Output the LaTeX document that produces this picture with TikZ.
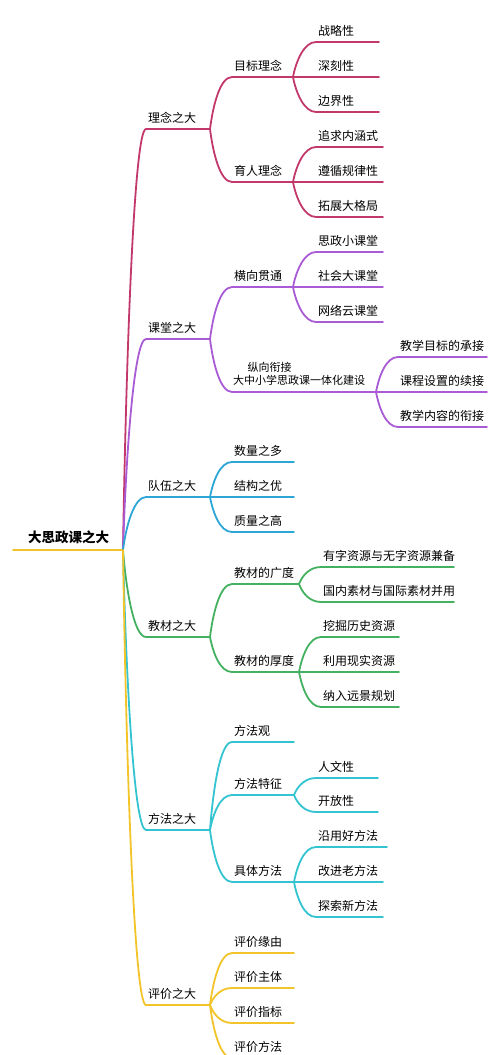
\documentclass[tikz,border=0pt]{standalone}
\usepackage{fontspec}
\setmainfont{Noto Sans CJK SC}
\usetikzlibrary{calc}
\definecolor{weinrot}{HTML}{C2386B}
\definecolor{lila}{HTML}{A95BD6}
\definecolor{blau}{HTML}{2DA6D6}
\definecolor{gruen}{HTML}{44B161}
\definecolor{tuerkis}{HTML}{33C3D1}
\definecolor{gelb}{HTML}{F2C42A}
\tikzset{
  ast/.style={line width=1.8pt, line cap=round},
  lbl/.style={anchor=base west, inner sep=0pt, font=\fontsize{12}{14}\selectfont},
}
% Linie eines Zweiges: Farbe, Eltern, Name, Beginn x, y, Ende x
\newcommand{\zweiglinie}[6]{%
  \coordinate (#3) at (#6,#5);
  \draw[ast,#1] (#2) .. controls ($(#2)!0.45!(#2|-#3)+(3,0)$) and (#4-12,#5) .. (#4,#5) -- (#3);
}
% Zweig mit Beschriftung ueber der Linie
\newcommand{\zweig}[7]{%
  \zweiglinie{#1}{#2}{#3}{#4}{#5}{#6}
  \node[lbl] (#3-t) at (#4+2,#5-7) {#7};
}
\begin{document}
\begin{tikzpicture}[x=1pt,y=-1pt]
\useasboundingbox (0,0) rectangle (500,1055);
\clip (0,0) rectangle (500,1055);
% Wurzel
\coordinate (wurzel) at (123,550);
\coordinate (wurzel-l) at (13,550);
\draw[ast,gelb] (wurzel-l) -- (wurzel);
\node[lbl,font=\fontsize{13.5}{16}\selectfont\bfseries] (wurzel-t) at (28,542) {大思政课之大};
% erste Ebene
\zweig{weinrot}{wurzel}{linian}{146}{129}{210}{理念之大}
\zweig{lila}{wurzel}{ketang}{146}{339}{210}{课堂之大}
\zweig{blau}{wurzel}{duiwu}{146}{497}{210}{队伍之大}
\zweig{gruen}{wurzel}{jiaocai}{146}{637}{210}{教材之大}
\zweig{tuerkis}{wurzel}{fangfa}{146}{830}{210}{方法之大}
\zweig{gelb}{wurzel}{pingjia}{146}{1005}{210}{评价之大}
% Theorie
\zweig{weinrot}{linian}{mubiao}{232}{77}{293}{目标理念}
\zweig{weinrot}{linian}{yuren}{232}{182}{293}{育人理念}
\zweig{weinrot}{mubiao}{zhanlue}{316}{42}{379}{战略性}
\zweig{weinrot}{mubiao}{shenke}{316}{77}{379}{深刻性}
\zweig{weinrot}{mubiao}{bianjie}{316}{112}{379}{边界性}
\zweig{weinrot}{yuren}{zhuiqiu}{316}{147}{383}{追求内涵式}
\zweig{weinrot}{yuren}{zunxun}{316}{182}{383}{遵循规律性}
\zweig{weinrot}{yuren}{tuozhan}{316}{217}{383}{拓展大格局}
% Unterricht
\zweig{lila}{ketang}{hengxiang}{232}{287}{293}{横向贯通}
\zweiglinie{lila}{ketang}{zongxiang}{232}{392}{376}
\node[lbl,anchor=south west,align=left,font=\fontsize{11}{13}\selectfont] (zongxiang-t) at (233,385.5) {\hspace*{1.3em}纵向衔接\\大中小学思政课一体化建设};
\zweig{lila}{hengxiang}{xiao}{316}{252}{383}{思政小课堂}
\zweig{lila}{hengxiang}{shehui}{316}{287}{383}{社会大课堂}
\zweig{lila}{hengxiang}{wangluo}{316}{322}{383}{网络云课堂}
\zweig{lila}{zongxiang}{chengjie}{398}{357}{487}{教学目标的承接}
\zweig{lila}{zongxiang}{xujie}{398}{392}{487}{课程设置的续接}
\zweig{lila}{zongxiang}{xianjie}{398}{427}{487}{教学内容的衔接}
% Lehrkraefte
\zweig{blau}{duiwu}{shuliang}{232}{462}{294}{数量之多}
\zweig{blau}{duiwu}{jiegou}{232}{497}{294}{结构之优}
\zweig{blau}{duiwu}{zhiliang}{232}{532}{294}{质量之高}
% Lehrmaterial
\zweig{gruen}{jiaocai}{guangdu}{232}{584}{299}{教材的广度}
\zweig{gruen}{jiaocai}{houdu}{232}{672}{299}{教材的厚度}
\zweig{gruen}{guangdu}{youzi}{321}{567}{454}{有字资源与无字资源兼备}
\zweig{gruen}{guangdu}{guonei}{321}{602}{454}{国内素材与国际素材并用}
\zweig{gruen}{houdu}{wajue}{321}{637}{399}{挖掘历史资源}
\zweig{gruen}{houdu}{liyong}{321}{672}{399}{利用现实资源}
\zweig{gruen}{houdu}{naru}{321}{707}{399}{纳入远景规划}
% Methode
\zweig{tuerkis}{fangfa}{fangfaguan}{232}{742}{294}{方法观}
\zweig{tuerkis}{fangfa}{tezheng}{232}{795}{294}{方法特征}
\zweig{tuerkis}{fangfa}{juti}{232}{882}{294}{具体方法}
\zweig{tuerkis}{tezheng}{renwen}{316}{778}{378}{人文性}
\zweig{tuerkis}{tezheng}{kaifang}{316}{812}{378}{开放性}
\zweig{tuerkis}{juti}{yanyong}{316}{847}{387}{沿用好方法}
\zweig{tuerkis}{juti}{gaijin}{316}{882}{383}{改进老方法}
\zweig{tuerkis}{juti}{tansuo}{316}{917}{383}{探索新方法}
% Bewertung
\zweig{gelb}{pingjia}{yuanyou}{232}{953}{294}{评价缘由}
\zweig{gelb}{pingjia}{zhuti}{232}{988}{294}{评价主体}
\zweig{gelb}{pingjia}{zhibiao}{232}{1023}{294}{评价指标}
\zweig{gelb}{pingjia}{pjfangfa}{232}{1058}{294}{评价方法}
\end{tikzpicture}
\end{document}
